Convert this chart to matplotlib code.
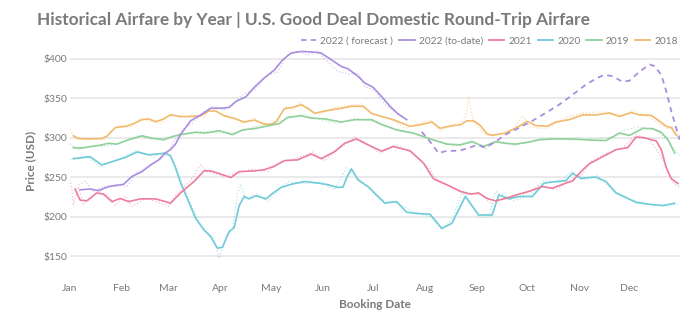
import numpy as np
import matplotlib
matplotlib.use("Agg")
import matplotlib.pyplot as plt
from matplotlib.lines import Line2D

plt.rcParams['font.family'] = ['Lato', 'DejaVu Sans']

### day of year (0 = Jan 1) and smoothed price for each year
days_2018 = [2, 5, 12, 19, 22, 27, 33, 37, 43, 47, 51, 55, 60, 66, 72, 78, 83, 87, 92, 99, 104, 110, 116, 120, 123, 128,
             133, 138, 142, 146, 151, 156, 162, 168, 175, 180, 186, 193, 203, 209, 216, 221, 227, 233, 237, 241, 245,
             249, 252, 260, 268, 273, 278, 285, 290, 298, 306, 314, 322, 328, 335, 340, 347, 352, 356, 359, 362]
price_2018 = [302.5, 299, 298.5, 299, 302, 313, 314.5, 317, 323, 324, 320.5, 323, 329, 327, 327, 328, 334, 334, 328, 324,
              320, 322.5, 317.5, 317, 320, 337, 338.5, 342, 337.5, 331, 333.5, 335.5, 337.5, 340, 340, 331, 327, 323,
              314.5, 316.5, 320, 312, 315, 316.5, 321.5, 321.5, 315.5, 305, 303, 306, 314.5, 321, 315.5, 314.5, 320,
              323, 329, 329, 331.5, 327, 332, 329, 328.5, 321, 314.5, 313, 303]

days_2019 = [2, 7, 13, 19, 23, 28, 35, 43, 49, 56, 62, 66, 75, 81, 89, 97, 103, 111, 119, 125, 130, 138, 144, 152, 162,
             170, 180, 186, 195, 205, 215, 225, 233, 240, 247, 254, 260, 266, 274, 280, 288, 300, 312, 320, 328, 334,
             342, 348, 353, 357, 361]
price_2019 = [287.5, 287, 289, 291, 293, 292, 297.5, 302.5, 299.5, 297.5, 302, 304, 307, 306, 309, 304, 310, 312, 315.5,
              318, 326, 328, 325, 324, 320, 323, 323, 317, 310, 306, 298.5, 292, 291, 295, 289, 295, 293, 292, 294.5,
              297.5, 298.5, 298.5, 297, 296.5, 306, 303, 312, 311.5, 307, 297.5, 280.5]

days_2020 = [2, 12, 19, 27, 33, 40, 47, 57, 60, 63, 66, 70, 75, 80, 84, 88, 91, 95, 98, 101, 104, 107, 111, 117, 121,
             126, 132, 140, 148, 154, 160, 163, 165, 168, 172, 178, 183, 188, 191, 195, 201, 207, 215, 222, 228, 236,
             244, 252, 256, 262, 268, 276, 283, 290, 296, 300, 305, 310, 314, 320, 326, 332, 338, 346, 354, 361]
price_2020 = [273.5, 276, 265.5, 271, 275, 282, 278.5, 280.5, 277, 262, 243, 223, 198, 183, 174.5, 160, 161, 181, 186,
              214, 225.5, 222.5, 226.5, 222.5, 229.5, 237, 241, 244.5, 242.5, 240.5, 237, 237.5, 248.5, 260.5, 246.5,
              238, 227.5, 217, 218, 219, 205.5, 204, 203, 185, 191.5, 225.5, 202, 202, 227.5, 222.5, 225.5, 225.5,
              242.5, 244.5, 245.5, 255, 248.5, 249.5, 250, 244.5, 230, 224, 218, 215.5, 214, 217]

days_2021 = [3, 6, 10, 16, 20, 25, 30, 35, 42, 51, 57, 60, 66, 74, 80, 84, 90, 96, 101, 110, 116, 122, 128, 136, 144,
             150, 158, 164, 171, 178, 186, 193, 203, 211, 217, 225, 233, 239, 244, 249, 254, 260, 268, 274, 282, 288,
             296, 300, 305, 310, 318, 326, 333, 338, 343, 348, 350, 353, 356, 359, 363]
price_2021 = [235, 221, 220, 230, 228.5, 219, 223, 219, 222.5, 222.5, 219, 217, 230, 244.5, 258, 258, 254, 249.5, 257,
              258, 259.5, 264, 271, 272, 279.5, 273.5, 282.5, 293, 298.5, 291, 283, 289, 283.5, 268, 248, 240.5, 232,
              228.5, 230, 223, 220, 223, 228.5, 232, 238, 236, 242.5, 245, 257, 267, 276, 285, 287.5, 301, 300, 297,
              296, 285, 262, 248, 242]

days_2022 = [6, 12, 17, 23, 29, 32, 37, 43, 48, 53, 57, 60, 63, 66, 72, 78, 84, 90, 95, 99, 105, 110, 116, 122, 127,
             132, 138, 144, 150, 156, 162, 166, 172, 176, 181, 186, 191, 196, 201]
price_2022 = [234, 235, 233, 238, 240, 241, 251, 257, 265.5, 272, 281, 285, 292, 304, 321.5, 329, 337.5, 337.5, 338.5,
              346, 352, 364, 376, 386, 399, 407.5, 409.5, 409, 407.5, 399, 390.5, 387.5, 378, 369.5, 364, 352.5, 340,
              330, 323]

days_fc = [210, 215, 220, 225, 232, 238, 243, 248, 254, 260, 268, 276, 284, 292, 300, 308, 314, 319, 324, 330, 334,
           340, 346, 349, 353, 356, 359, 362, 364]
price_fc = [307.5, 295, 280.5, 283.5, 283.5, 287, 291, 287.5, 295, 304, 312.5, 321.5, 331.5, 342, 354.5, 367.5, 375,
            380, 378, 371, 372.5, 384, 393, 391, 380, 359, 333.5, 312, 297.5]

### daily (unsmoothed) prices, drawn faint and dotted
raw_days_2018 = [0, 3, 8, 14, 20, 25, 30, 36, 42, 48, 54, 60, 66, 73, 80, 84, 90, 97, 103, 110, 117, 123, 129, 133,
                 137, 143, 150, 158, 166, 174, 181, 190, 200, 208, 215, 221, 230, 236, 238, 241, 248, 256, 265, 270,
                 275, 285, 295, 305, 318, 330, 336, 345, 352, 357, 360, 364]
raw_2018 = [311, 300, 297, 300, 297, 309, 316, 313, 325, 321, 318, 331, 325, 329, 326, 339, 330, 326, 318, 325, 314,
            322, 340, 335, 346, 334, 330, 338, 341, 343, 329, 326, 312, 318, 323, 309, 317, 324, 352, 319, 304, 305,
            312, 328, 313, 312, 325, 331, 333, 329, 335, 327, 318, 311, 315, 298]

raw_days_2019 = [0, 5, 12, 20, 30, 40, 50, 60, 70, 80, 90, 100, 110, 120, 130, 140, 150, 160, 170, 180, 190, 200, 210,
                 220, 230, 240, 248, 256, 265, 275, 285, 300, 315, 325, 330, 340, 350, 357, 364]
raw_2019 = [292, 285, 290, 289, 293, 303, 297, 302, 306, 308, 306, 307, 314, 318, 324, 330, 322, 318, 325, 321, 314,
            307, 303, 296, 289, 297, 286, 296, 290, 296, 300, 297, 299, 300, 309, 314, 309, 296, 277]

raw_days_2020 = [0, 10, 18, 28, 40, 50, 58, 62, 66, 70, 78, 86, 89, 93, 97, 100, 102, 105, 112, 118, 124, 130, 140,
                 150, 158, 165, 168, 175, 185, 195, 205, 215, 222, 228, 234, 237, 244, 250, 254, 258, 265, 275, 283,
                 292, 300, 306, 315, 325, 335, 345, 355, 363]
raw_2020 = [272, 277, 263, 272, 284, 276, 282, 270, 248, 226, 189, 172, 147, 172, 184, 230, 240, 222, 229, 219, 233,
            244, 242, 244, 234, 262, 256, 243, 222, 217, 206, 200, 183, 196, 230, 226, 199, 199, 232, 228, 220, 228,
            246, 243, 258, 246, 252, 232, 222, 216, 213, 216]

raw_days_2021 = [0, 1, 2, 5, 8, 13, 17, 23, 27, 33, 37, 45, 53, 59, 64, 72, 78, 82, 92, 100, 108, 118, 126, 135, 145,
                 152, 160, 170, 177, 185, 195, 205, 214, 220, 230, 238, 245, 252, 260, 270, 280, 290, 298, 305, 312,
                 320, 330, 338, 346, 354, 360, 364]
raw_2021 = [247, 236, 214, 238, 216, 224, 233, 226, 214, 226, 213, 223, 218, 213, 229, 246, 266, 257, 251, 256, 260,
            257, 270, 274, 282, 271, 285, 301, 293, 280, 291, 280, 262, 244, 235, 230, 228, 216, 225, 226, 240, 234,
            246, 252, 272, 280, 287, 304, 298, 272, 244, 237]

raw_days_2022 = [5, 9, 14, 20, 28, 34, 40, 46, 52, 58, 62, 68, 74, 80, 86, 92, 98, 104, 110, 118, 124, 130, 136, 142,
                 148, 154, 160, 166, 172, 176, 182, 188, 194, 199]
raw_2022 = [240, 245, 232, 238, 241, 238, 256, 262, 270, 279, 296, 312, 320, 333, 340, 335, 345, 356, 361, 380, 383,
            406, 410, 405, 410, 396, 384, 381, 382, 365, 360, 342, 333, 327]

month_labels = ['Jan', 'Feb', 'Mar', 'Apr', 'May', 'Jun', 'Jul', 'Aug', 'Sep', 'Oct', 'Nov', 'Dec']
month_starts = [0, 31, 59, 90, 120, 151, 181, 212, 243, 273, 304, 334]
price_ticks = [150, 200, 250, 300, 350, 400]

c_2022 = '#a98ee0'
c_2021 = '#ec7d9c'
c_2020 = '#6fcbd7'
c_2019 = '#8fd09b'
c_2018 = '#f2ba6c'
grey = '#7a7a7a'

fig = plt.figure(figsize=(7, 3.23), dpi=100)
ax = fig.add_axes([0.1, 0.1464, 0.871, 0.7076])

# faint daily traces first
raw = [(raw_days_2018, raw_2018, c_2018), (raw_days_2019, raw_2019, c_2019), (raw_days_2020, raw_2020, c_2020),
       (raw_days_2021, raw_2021, c_2021), (raw_days_2022, raw_2022, c_2022)]
for d, p, c in raw:
    ax.plot(d, p, color=c, lw=0.9, ls=':', alpha=0.5, zorder=2)

ax.plot(days_2018, price_2018, color=c_2018, lw=1.2, zorder=3)
ax.plot(days_2019, price_2019, color=c_2019, lw=1.2, zorder=3)
ax.plot(days_2020, price_2020, color=c_2020, lw=1.2, zorder=3)
ax.plot(days_2021, price_2021, color=c_2021, lw=1.2, zorder=3)
ax.plot(days_2022, price_2022, color=c_2022, lw=1.2, zorder=4)
ax.plot(days_fc, price_fc, color=c_2022, lw=1.3, dashes=(3, 2.5), zorder=4)

ax.set_xlim(0, 364)
ax.set_ylim(125, 415)
ax.set_xticks(month_starts)
ax.set_xticklabels(month_labels)
ax.set_yticks(price_ticks)
ax.set_yticklabels(['$%d' % v for v in price_ticks])
ax.tick_params(length=0, labelsize=7.5, labelcolor=grey)
ax.tick_params(axis='x', pad=6)
ax.tick_params(axis='y', pad=2)
ax.grid(axis='y', color='#e6e6e6', lw=1.2)
ax.set_axisbelow(True)
for s in ax.spines.values():
    s.set_visible(False)

ax.set_xlabel('Booking Date', fontsize=8.5, fontweight='bold', color=grey, labelpad=4)
ax.set_ylabel('Price (USD)', fontsize=8.5, fontweight='bold', color=grey, labelpad=5)

fig.text(37 / 700, 1 - 20 / 323, 'Historical Airfare by Year | U.S. Good Deal Domestic Round-Trip Airfare',
         fontsize=12.4, fontweight='bold', color=grey, va='center', ha='left')

handles = [Line2D([], [], color=c_2022, lw=1.3, dashes=(3, 2.5)),
           Line2D([], [], color=c_2022, lw=1.3),
           Line2D([], [], color=c_2021, lw=1.3),
           Line2D([], [], color=c_2020, lw=1.3),
           Line2D([], [], color=c_2019, lw=1.3),
           Line2D([], [], color=c_2018, lw=1.3)]
labels = ['2022 ( forecast )', '2022 (to-date)', '2021', '2020', '2019', '2018']
leg = fig.legend(handles, labels, loc='center right', bbox_to_anchor=(678 / 700, 1 - 41 / 323), ncol=6,
                 frameon=False, fontsize=7.3, handlelength=1.5, handletextpad=0.4, columnspacing=0.6,
                 borderaxespad=0, borderpad=0)
for t in leg.get_texts():
    t.set_color(grey)

fig.savefig('out.png', dpi=100)
